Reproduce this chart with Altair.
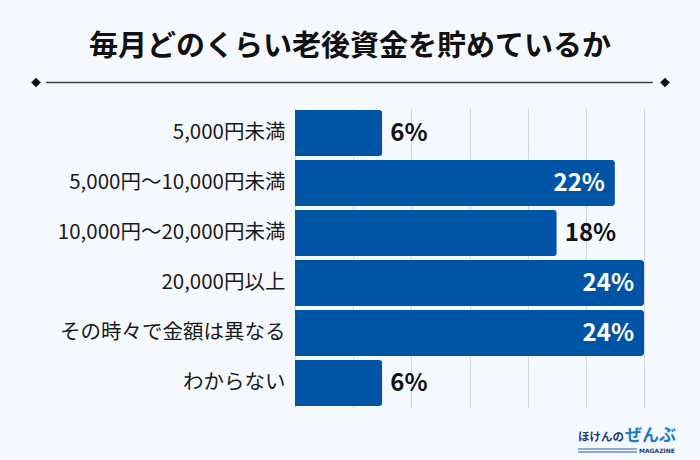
import altair as alt
import pandas as pd

categories = ["5,000円未満", "5,000円～10,000円未満", "10,000円～20,000円未満",
              "20,000円以上", "その時々で金額は異なる", "わからない"]
values = [6, 22, 18, 24, 24, 6]
labels = [f"{v}%" for v in values]
grid_ticks = [0, 4, 8, 12, 16, 20, 24]
title_text = "毎月どのくらい老後資金を貯めているか"

FONT = "Noto Sans CJK JP"
BG = "#F5F9FD"
BAR = "#0054A6"

df = pd.DataFrame({"cat": categories, "val": values, "label": labels})
one = pd.DataFrame({"a": [0]})

W, H = 349, 300
L, T = 295, 108

x = alt.X("val:Q", scale=alt.Scale(domain=[0, 24], nice=False),
          axis=alt.Axis(values=grid_ticks, labels=False, ticks=False, domain=False,
                        title=None, grid=True, gridColor="#D3D8DF", gridWidth=1))
y = alt.Y("cat:N", sort=categories,
          scale=alt.Scale(paddingInner=0.08, paddingOuter=0.04),
          axis=alt.Axis(title=None, ticks=False, domain=False, labelFont=FONT,
                        labelFontSize=20.5, labelColor="#1a1a1a", labelPadding=10,
                        labelLimit=300))

bars = alt.Chart(df).mark_bar(color=BAR, cornerRadiusEnd=3).encode(x=x, y=y)

inside = alt.Chart(df).transform_filter("datum.val >= 20").mark_text(
    align="right", baseline="middle", dx=-10, dy=1, font=FONT, fontSize=24,
    fontWeight="bold", color="white").encode(x="val:Q", y=alt.Y("cat:N", sort=categories), text="label:N")
outside = alt.Chart(df).transform_filter("datum.val < 20").mark_text(
    align="left", baseline="middle", dx=8, dy=1, font=FONT, fontSize=24,
    fontWeight="bold", color="#111111").encode(x="val:Q", y=alt.Y("cat:N", sort=categories), text="label:N")

title = alt.Chart(one).mark_text(
    text=title_text, font=FONT, fontSize=29, fontWeight="bold", color="#111111",
    align="center", baseline="middle").encode(x=alt.value(350 - L), y=alt.value(47 - T))

line = alt.Chart(one).mark_rule(color="#444444", strokeWidth=1.5).encode(
    x=alt.value(46 - L), x2=alt.value(653 - L), y=alt.value(82.5 - T))
dl = alt.Chart(one).mark_point(shape="diamond", filled=True, color="#111111", size=95, opacity=1).encode(
    x=alt.value(36 - L), y=alt.value(82.5 - T))
dr = alt.Chart(one).mark_point(shape="diamond", filled=True, color="#111111", size=95, opacity=1).encode(
    x=alt.value(665 - L), y=alt.value(82.5 - T))

logo1 = alt.Chart(one).mark_text(
    text="ほけんの", font=FONT, fontSize=11.5, fontWeight="bold", color="#1F3C78",
    align="left", baseline="middle").encode(x=alt.value(578 - L), y=alt.value(438 - T))
logo2 = alt.Chart(one).mark_text(
    text="ぜんぶ", font=FONT, fontSize=17, fontWeight="bold", color="#1E7BCB",
    align="left", baseline="middle").encode(x=alt.value(625 - L), y=alt.value(436 - T))
logo_r1 = alt.Chart(one).mark_rule(color="#6C8FC9", strokeWidth=1.5).encode(
    x=alt.value(578 - L), x2=alt.value(637 - L), y=alt.value(449 - T))
logo_r2 = alt.Chart(one).mark_rule(color="#6C8FC9", strokeWidth=1.5).encode(
    x=alt.value(578 - L), x2=alt.value(637 - L), y=alt.value(452 - T))
logo3 = alt.Chart(one).mark_text(
    text="MAGAZINE", font="DejaVu Sans", fontSize=6, fontWeight="bold", color="#1F3C78",
    align="left", baseline="middle").encode(x=alt.value(639 - L), y=alt.value(451 - T))

chart = alt.layer(bars, inside, outside, title, line, dl, dr,
                  logo1, logo2, logo_r1, logo_r2, logo3).properties(
    width=W, height=H, background=BG,
    padding={"left": L, "top": T, "right": 700 - L - W, "bottom": 460 - T - H},
    autosize=alt.AutoSizeParams(type="none"),
).configure_view(stroke=None)

chart.save("out.html", embed_options={"renderer": "svg", "actions": False})
